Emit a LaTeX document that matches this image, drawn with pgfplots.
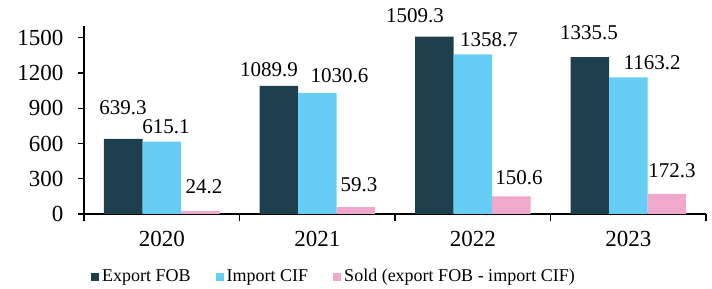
\documentclass[border=0pt]{standalone}
\usepackage{pgfplots}
\pgfplotsset{compat=1.18}
\usepackage{fontspec}
\setmainfont{Liberation Serif}
\definecolor{cDark}{RGB}{30,63,77}
\definecolor{cLight}{RGB}{102,206,245}
\definecolor{cPink}{RGB}{240,168,204}
\begin{document}
\begin{tikzpicture}
\useasboundingbox (-42pt,-37.5pt) rectangle (314pt,107pt);
\begin{axis}[
  at={(0,0)}, anchor=south west,
  scale only axis,
  width=311pt, height=94pt,
  xmin=-0.5, xmax=3.5,
  ymin=0, ymax=1600,
  axis lines*=left,
  axis line style={line width=0.8pt},
  clip=false,
  tick align=outside,
  xtick={0,1,2,3},
  xticklabels={2020,2021,2022,2023},
  major x tick style={draw=none},
  minor xtick={-0.5,0.5,1.5,2.5,3.5},
  minor x tick style={draw=black, line width=0.8pt},
  minor tick length=3.5pt,
  ytick={0,300,600,900,1200,1500},
  major tick length=3pt,
  y tick style={line width=0.6pt, black},
  /pgf/number format/1000 sep={},
  /pgf/number format/assume math mode=true,
  tick label style={font=\fontsize{11.5}{12}\selectfont},
  yticklabel style={xshift=-3.8pt},
  xticklabel style={yshift=-2pt},
  legend style={at={(0.011,-0.335)}, anchor=west, draw=none, fill=none,
    legend columns=3, inner sep=0pt,
    font=\fontsize{9}{10}\selectfont,
    /tikz/every even column/.append style={column sep=11pt},
    nodes={inner sep=1.5pt}},
  legend image code/.code={\fill[#1] (0pt,-2pt) rectangle (4pt,2pt);},
]
\addplot[ybar, bar width=19.25pt, bar shift=-19.25pt, fill=cDark, draw=none]
  coordinates {(0,639.3) (1,1089.9) (2,1509.3) (3,1335.5)};
\addlegendentry{Export FOB}
\addplot[ybar, bar width=19.25pt, bar shift=0pt, fill=cLight, draw=none]
  coordinates {(0,615.1) (1,1030.6) (2,1358.7) (3,1163.2)};
\addlegendentry{Import CIF}
\addplot[ybar, bar width=19.25pt, bar shift=19.25pt, fill=cPink, draw=none]
  coordinates {(0,24.2) (1,59.3) (2,150.6) (3,172.3)};
\addlegendentry{Sold (export FOB - import CIF)}
\addplot[draw=none, mark=none, forget plot,
  nodes near coords, point meta=explicit symbolic,
  nodes near coords align={center},
  every node near coord/.append style={font=\fontsize{10.5}{12}\selectfont, inner sep=0pt}]
  table[meta=lab] {
x y lab
-0.249 902 639.3
0.027 740 615.1
0.272 230 24.2
0.690 1230 1089.9
1.143 1179 1030.6
1.268 251 59.3
1.629 1685 1509.3
2.105 1485 1358.7
2.297 311 150.6
2.748 1545 1335.5
3.153 1289 1163.2
3.281 366 172.3
};
\end{axis}
\end{tikzpicture}
\end{document}
